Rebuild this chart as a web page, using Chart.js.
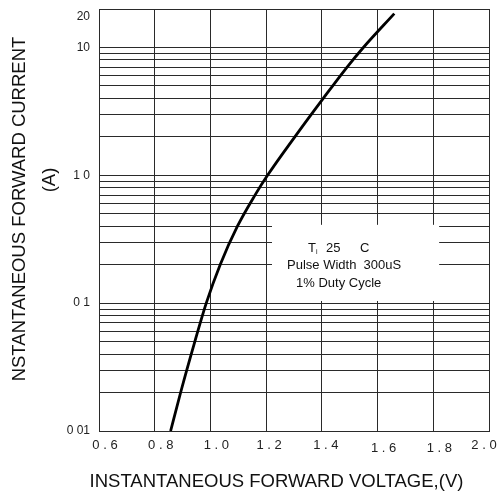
<!DOCTYPE html>
<html>
<head>
<meta charset="utf-8">
<script src="https://cdn.jsdelivr.net/npm/chart.js@4/dist/chart.umd.min.js"></script>
<style>
  body { margin: 0; background: #fff; }
</style>
</head>
<body>
<canvas id="fwd-chart" width="497" height="492"></canvas>
<script>
// forward voltage (V) vs instantaneous forward current (A)
const voltage = [0.857, 0.893, 0.944, 0.985, 1.035, 1.097, 1.160, 1.205, 1.303, 1.405, 1.490, 1.549, 1.66];
const current = [0.01, 0.02, 0.05, 0.1, 0.2, 0.4, 0.7, 1.0, 2.0, 4.0, 7.0, 10.0, 18.4];

const xTicks = [0.6, 0.8, 1.0, 1.2, 1.4, 1.6, 1.8, 2.0];
const yLabelValues = [0.01, 0.1, 1, 10, 20];
const yLabelTexts = ['0 01', '0 1', '1 0', '10', '20'];
const noteLines = ['Pulse Width  300uS', '1% Duty Cycle'];

const FONT = '"Liberation Sans", Arial, sans-serif';
const gridColor = '#2a2a2a';

// log grid: 1..9 in every decade up to the max
function logGrid(min, max) {
  const out = [];
  for (let e = -2; e <= 1; e++) {
    for (let m = 1; m <= 9; m++) {
      const v = +(m * Math.pow(10, e)).toPrecision(3);
      if (v >= min && v <= max) out.push(v);
    }
  }
  return out;
}

const extras = {
  id: 'extras',
  afterDraw(chart) {
    const ctx = chart.ctx;
    const xs = chart.scales.x;
    const ys = chart.scales.y;
    ctx.save();

    // x tick labels, nudged like the scanned original
    const dx = [6, 6, 6, 3, 4, 6, 6, -5];
    const dy = [0, 0, 0, 0, 0, 3, 3, 0];
    ctx.fillStyle = '#222';
    ctx.font = '13px ' + FONT;
    ctx.textAlign = 'center';
    ctx.textBaseline = 'middle';
    xTicks.forEach((v, i) => {
      const label = v.toFixed(1).split('').join(' ');
      ctx.fillText(label, xs.getPixelForValue(v) + dx[i], 445 + dy[i]);
    });

    // note box
    const bx1 = xs.getPixelForValue(1.221), bx2 = xs.getPixelForValue(1.821);
    const by1 = ys.getPixelForValue(0.41), by2 = ys.getPixelForValue(0.104);
    ctx.fillStyle = '#fff';
    ctx.fillRect(bx1, by1, bx2 - bx1, by2 - by1);

    ctx.fillStyle = '#111';
    ctx.font = '13px ' + FONT;
    ctx.textAlign = 'left';
    ctx.fillText('T', 308, 248);
    ctx.font = '7px ' + FONT;
    ctx.fillText('i', 316, 252);
    ctx.font = '13px ' + FONT;
    ctx.fillText('25', 326, 248);
    ctx.fillText('C', 360, 248);
    ctx.fillText(noteLines[0], 287, 265);
    ctx.fillText(noteLines[1], 296, 283);

    // axis titles
    ctx.fillStyle = '#111';
    ctx.font = '18.5px ' + FONT;
    ctx.textAlign = 'center';
    ctx.textBaseline = 'alphabetic';
    ctx.fillText('INSTANTANEOUS FORWARD VOLTAGE,(V)', 276.5, 487);

    ctx.translate(25, 209);
    ctx.rotate(-Math.PI / 2);
    ctx.fillText('NSTANTANEOUS FORWARD CURRENT', 0, 0);
    ctx.restore();

    ctx.save();
    ctx.fillStyle = '#111';
    ctx.font = '18.5px ' + FONT;
    ctx.textAlign = 'center';
    ctx.translate(54.5, 180);
    ctx.rotate(-Math.PI / 2);
    ctx.fillText('(A)', 0, 0);
    ctx.restore();
  }
};

const points = voltage.map((v, i) => ({ x: v, y: current[i] }));

new Chart(document.getElementById('fwd-chart'), {
  type: 'line',
  data: {
    datasets: [{
      data: points,
      borderColor: '#000',
      borderWidth: 2.8,
      pointRadius: 0,
      cubicInterpolationMode: 'monotone',
      fill: false
    }]
  },
  options: {
    responsive: false,
    animation: false,
    layout: { padding: { left: 0, top: 9, right: 8, bottom: 0 } },
    plugins: { legend: { display: false }, tooltip: { enabled: false } },
    scales: {
      x: {
        type: 'linear',
        min: 0.6,
        max: 2.0,
        afterBuildTicks(scale) { scale.ticks = xTicks.map(v => ({ value: v })); },
        afterFit(scale) { scale.height = 61; scale.paddingLeft = 0; scale.paddingRight = 0; },
        grid: { color: gridColor, lineWidth: 1, drawTicks: false },
        border: { color: gridColor },
        ticks: { display: false }
      },
      y: {
        type: 'logarithmic',
        min: 0.01,
        max: 20,
        afterBuildTicks(scale) { scale.ticks = logGrid(0.01, 20).map(v => ({ value: v })); },
        afterFit(scale) { scale.width = 99; scale.paddingTop = 0; scale.paddingBottom = 0; },
        grid: { color: gridColor, lineWidth: 1, drawTicks: false },
        border: { color: gridColor },
        ticks: {
          autoSkip: false,
          padding: 9,
          color: '#222',
          font: { family: FONT, size: 12 },
          callback: v => {
            const i = yLabelValues.findIndex(t => Math.abs(t - v) / t < 1e-6);
            if (i < 0) return '';
            // top label sits a little below its line in the original
            return v === 20 ? ['', yLabelTexts[i]] : yLabelTexts[i];
          }
        }
      }
    }
  },
  plugins: [extras]
});
</script>
</body>
</html>
